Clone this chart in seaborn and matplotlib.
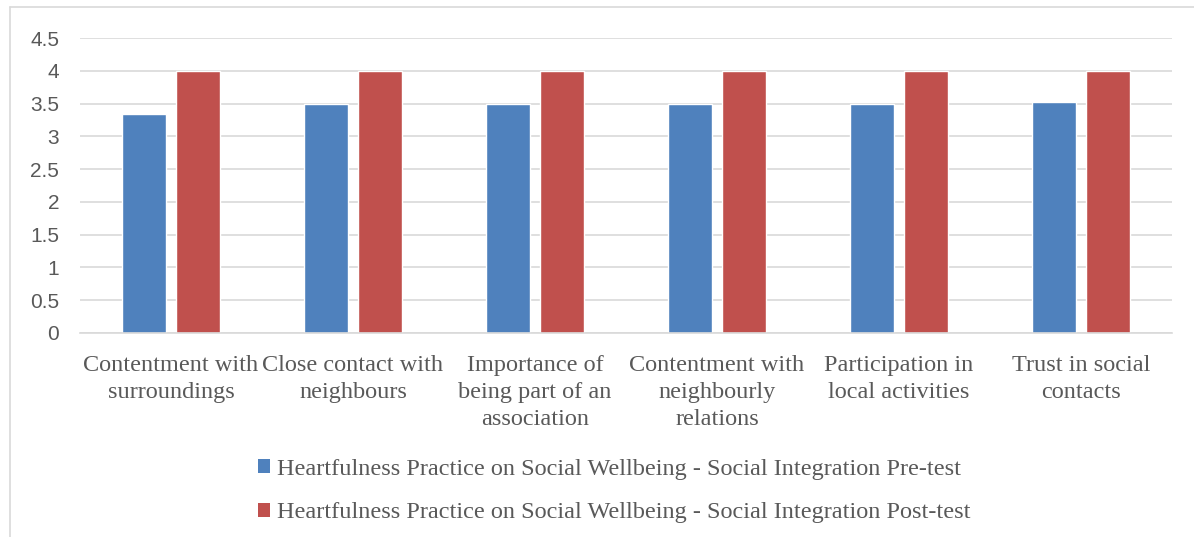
import matplotlib
matplotlib.use("Agg")
import matplotlib.pyplot as plt
import seaborn as sns
import pandas as pd
from matplotlib.patches import Patch
from matplotlib.lines import Line2D

categories = ["Contentment with\nsurroundings", "Close contact with\nneighbours",
              "Importance of\nbeing part of an\nassociation", "Contentment with\nneighbourly\nrelations",
              "Participation in\nlocal activities", "Trust in social\ncontacts"]
series_names = ["Heartfulness Practice on Social Wellbeing - Social Integration Pre-test",
                "Heartfulness Practice on Social Wellbeing - Social Integration Post-test"]
pre_test = [3.34, 3.49, 3.49, 3.49, 3.49, 3.52]
post_test = [4.0, 4.0, 4.0, 4.0, 4.0, 4.0]
colors = ["#4F81BD", "#C0504D"]
yticks = [0, 0.5, 1, 1.5, 2, 2.5, 3, 3.5, 4, 4.5]
ytick_labels = ["0", "0.5", "1", "1.5", "2", "2.5", "3", "3.5", "4", "4.5"]

df = pd.DataFrame({
    "category": categories * 2,
    "value": pre_test + post_test,
    "series": [series_names[0]] * 6 + [series_names[1]] * 6,
})

sns.set_style("white")
fig = plt.figure(figsize=(11.94, 5.37), dpi=100)
W, H = 1194, 537
ax = fig.add_axes([80 / W, 1 - 333 / H, (1172 - 80) / W, (333 - 38) / H])

sns.barplot(data=df, x="category", y="value", hue="series", palette=colors,
            width=0.594, gap=0.2, ax=ax, legend=False, saturation=1)

ax.set_ylim(0, 4.5)
ax.set_xlim(-0.5, 5.5)
ax.set_yticks(yticks)
ax.set_yticklabels(ytick_labels, fontsize=15, color="#595959", family="Liberation Sans")
ax.set_xticks(range(len(categories)))
ax.set_xticklabels(categories, fontsize=17.5, color="#595959", family="Liberation Serif",
                   linespacing=1.38)
ax.tick_params(axis="both", length=0)
ax.tick_params(axis="x", pad=16)
ax.tick_params(axis="y", pad=15)
ax.set_xlabel("")
ax.set_ylabel("")
ax.grid(axis="y", color="#d9d9d9", linewidth=1.2)
ax.set_axisbelow(True)
for s in ["top", "right", "left"]:
    ax.spines[s].set_visible(False)
ax.spines["bottom"].set_color("#d9d9d9")
ax.spines["bottom"].set_linewidth(1.2)

# chart border
fig.add_artist(Line2D([10 / W, 10 / W], [0, 1 - 7 / H], transform=fig.transFigure,
                      color="#d9d9d9", linewidth=1.2))
fig.add_artist(Line2D([10 / W, 1], [1 - 7 / H, 1 - 7 / H], transform=fig.transFigure,
                      color="#d9d9d9", linewidth=1.2))

handles = [Patch(facecolor=c, edgecolor="none") for c in colors]
fig.legend(handles, series_names, loc="upper left", bbox_to_anchor=(248 / W, 1 - 449 / H),
           frameon=False, handlelength=0.5, handleheight=0.5, handletextpad=0.3,
           labelspacing=0.93, borderaxespad=0,
           prop={"family": "Liberation Serif", "size": 17.5}, labelcolor="#595959")

fig.savefig("out.png", dpi=100)
